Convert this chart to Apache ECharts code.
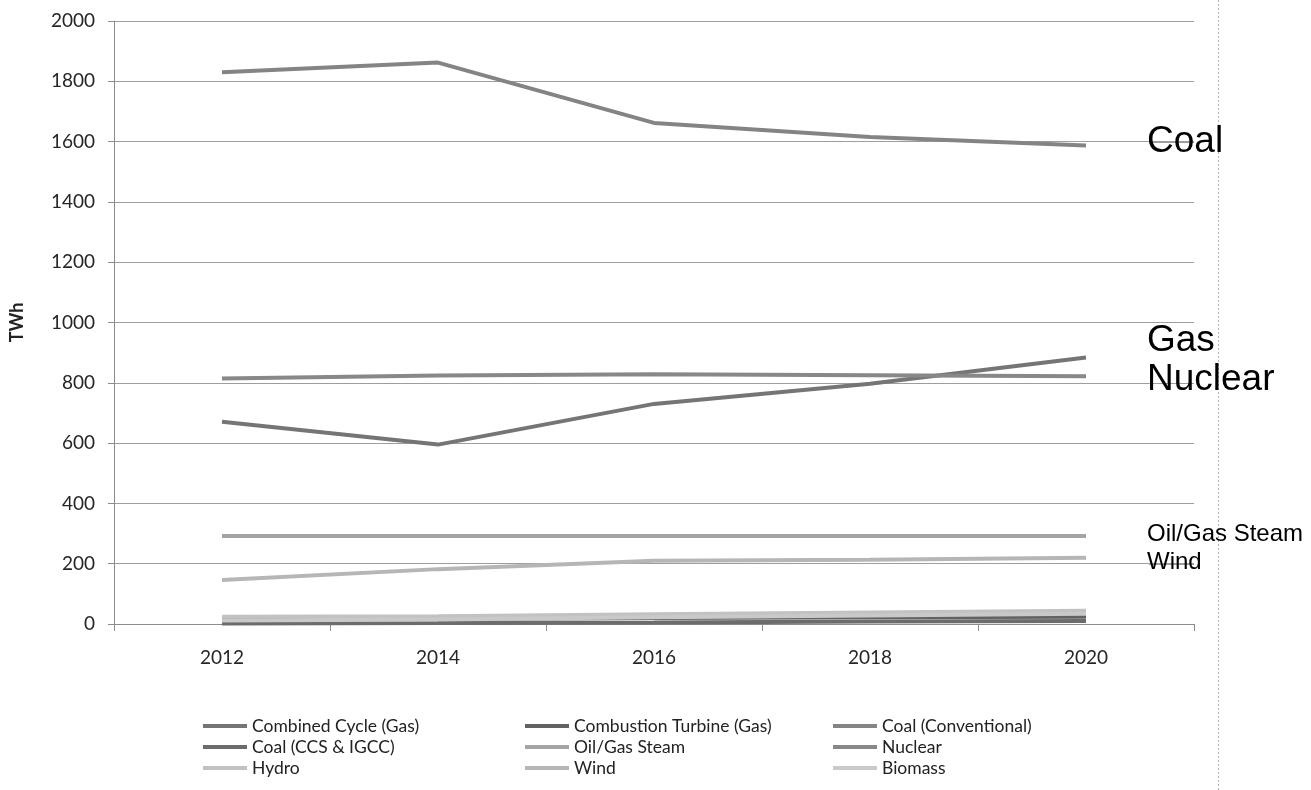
<!DOCTYPE html>
<html>
<head>
<meta charset="utf-8">
<script src="https://cdn.jsdelivr.net/npm/echarts@6/dist/echarts.min.js"></script>
<style>
html,body{margin:0;padding:0;background:#fff;}
#c{width:1311px;height:790px;}
</style>
</head>
<body>
<div id="c"></div>
<script>
var years = ['2012', '2014', '2016', '2018', '2020'];
var yTicks = [0, 200, 400, 600, 800, 1000, 1200, 1400, 1600, 1800, 2000];

var combinedCycle     = [671, 595, 730, 797, 884];
var combustionTurbine = [18, 17, 20, 22, 24];
var coalConventional  = [1830, 1862, 1662, 1615, 1587];
var coalCCS           = [2, 3, 5, 8, 10];
var oilGasSteam       = [292, 292, 292, 292, 292];
var nuclear           = [814, 824, 828, 825, 822];
var hydro             = [24, 26, 32, 38, 44];
var wind              = [146, 182, 210, 213, 220];
var biomass           = [12, 15, 22, 28, 34];

var seriesNames = ['Combined Cycle (Gas)', 'Combustion Turbine (Gas)', 'Coal (Conventional)',
  'Coal (CCS & IGCC)', 'Oil/Gas Steam', 'Nuclear', 'Hydro', 'Wind', 'Biomass'];
var seriesData = [combinedCycle, combustionTurbine, coalConventional, coalCCS, oilGasSteam, nuclear, hydro, wind, biomass];
var seriesColors = ['#757575', '#626262', '#848484', '#6c6c6c', '#a4a4a4', '#888888', '#c2c2c2', '#b6b6b6', '#c9c9c9'];

var annotations = [
  {text: 'Coal', value: 1600, size: 37},
  {text: 'Gas', value: 938, size: 37},
  {text: 'Nuclear', value: 810, size: 37},
  {text: 'Oil/Gas Steam', value: 296, size: 24},
  {text: 'Wind', value: 203, size: 24}
];
var leaderValues = [1600, 800, 200];

var chart = echarts.init(document.getElementById('c'), null, {renderer: 'canvas'});

var series = seriesNames.map(function (n, i) {
  return {
    name: n, type: 'line', data: seriesData[i], symbol: 'none', smooth: false,
    lineStyle: {color: seriesColors[i], width: 4},
    itemStyle: {color: seriesColors[i]},
    z: 3
  };
});

var legendFont = {fontFamily: 'Lato', fontSize: 17.5, color: '#222', lineHeight: 18};
function mkLegend(names, left) {
  return {
    data: names, orient: 'vertical', left: left, top: 717,
    icon: 'rect', itemWidth: 44, itemHeight: 4, itemGap: 3,
    textStyle: legendFont, selectedMode: false, padding: 0
  };
}

chart.setOption({
  animation: false,
  backgroundColor: '#fff',
  grid: {left: 110, right: 117, top: 21, bottom: 166, containLabel: false},
  legend: [
    mkLegend([seriesNames[0], seriesNames[3], seriesNames[6]], 203),
    mkLegend([seriesNames[1], seriesNames[4], seriesNames[7]], 525),
    mkLegend([seriesNames[2], seriesNames[5], seriesNames[8]], 833)
  ],
  xAxis: {
    type: 'category', data: years, boundaryGap: true,
    axisLine: {lineStyle: {color: '#8c8c8c', width: 1}},
    axisTick: {show: true, length: 7, lineStyle: {color: '#8c8c8c'}},
    axisLabel: {fontFamily: 'Lato', fontSize: 19, color: '#262626', margin: 24},
    splitLine: {show: false}
  },
  yAxis: {
    type: 'value', min: yTicks[0], max: yTicks[yTicks.length - 1], interval: 200,
    name: 'TWh', nameLocation: 'middle', nameRotate: 90, nameGap: 88,
    nameTextStyle: {fontFamily: 'Lato', fontWeight: 'bold', fontSize: 18, color: '#222'},
    axisLine: {show: true, lineStyle: {color: '#8c8c8c', width: 1}},
    axisTick: {show: true, length: 6, lineStyle: {color: '#8c8c8c'}},
    axisLabel: {fontFamily: 'Lato', fontSize: 19, color: '#262626', margin: 19,
      formatter: function (v) { return String(v); }},
    splitLine: {show: true, lineStyle: {color: '#9e9e9e', width: 1}}
  },
  series: series
});

var graphics = [];
var plotRight = 1311 - 117;
leaderValues.forEach(function (v) {
  var y = Math.round(chart.convertToPixel({yAxisIndex: 0}, v)) + 0.5;
  graphics.push({type: 'line', shape: {x1: plotRight, y1: y, x2: 1149, y2: y},
    style: {stroke: '#9e9e9e', lineWidth: 1}, z: 1});
});
annotations.forEach(function (a) {
  var y = chart.convertToPixel({yAxisIndex: 0}, a.value);
  graphics.push({type: 'text', x: 1147, y: y,
    style: {text: a.text, font: a.size + 'px "Liberation Sans", Arial, sans-serif',
      fill: '#000', textAlign: 'left', textVerticalAlign: 'middle'}, z: 10});
});
graphics.push({type: 'line', shape: {x1: 1218.5, y1: 0, x2: 1218.5, y2: 790},
  style: {stroke: '#b5b5b5', lineWidth: 1, lineDash: [2, 2]}, z: 1});
chart.setOption({graphic: graphics});
</script>
</body>
</html>
